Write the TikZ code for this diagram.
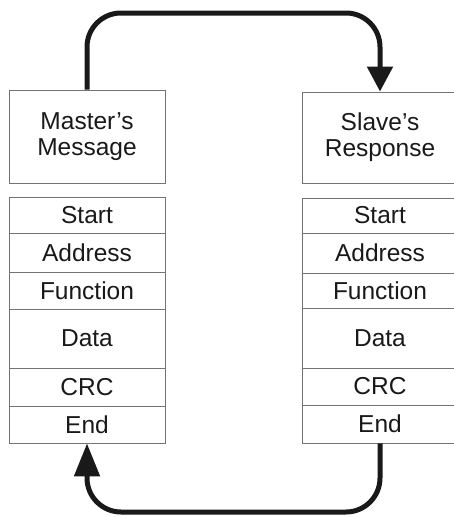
\documentclass[tikz,border=0pt]{standalone}
\usepackage{fontspec}
\setmainfont{Liberation Sans}
\usetikzlibrary{arrows.meta}
\begin{document}
\begin{tikzpicture}[x=1pt,y=-1pt,
  cell/.style={draw=black!55,line width=0.8pt,minimum width=156pt,inner sep=0pt,
    font=\fontsize{24.5}{26}\selectfont,text=black!90,align=center},
  rcell/.style={cell,minimum width=164pt,text width=156pt,xshift=4pt},
  flow/.style={line width=5pt,rounded corners=34pt,draw=black!90}]
\useasboundingbox (0,0) rectangle (454,517);
\clip (0,0) rectangle (454,517);
% left column
\node[cell,minimum height=93pt] (mh) at (87,136.5) {Master’s\\Message};
\node[cell,minimum height=36pt] (ms) at (87,215) {Start};
\node[cell,minimum height=39pt] (ma) at (87,252.5) {Address};
\node[cell,minimum height=37pt] (mf) at (87,290.5) {Function};
\node[cell,minimum height=59pt] (md) at (87,338.5) {Data};
\node[cell,minimum height=38pt] (mc) at (87,387) {CRC};
\node[cell,minimum height=37pt] (me) at (87,424.5) {End};
% right column
\node[rcell,minimum height=91pt] (sh) at (380,137.5) {\hspace*{-8pt}Slave’s\\\hspace*{-8pt}Response};
\node[rcell,minimum height=35pt] (ss) at (380,215.5) {\hspace*{-8pt}Start};
\node[rcell,minimum height=40pt] (sa) at (380,253) {\hspace*{-8pt}Address};
\node[rcell,minimum height=35pt] (sf) at (380,290.5) {\hspace*{-8pt}Function};
\node[rcell,minimum height=60pt] (sd) at (380,338) {\hspace*{-8pt}Data};
\node[rcell,minimum height=37pt] (sc) at (380,386.5) {\hspace*{-8pt}CRC};
\node[rcell,minimum height=38pt] (se) at (380,424) {\hspace*{-8pt}End};
% connectors
\draw[flow,-{Triangle[length=25pt,width=25pt]}] (mh.north) -- (87,13) -- (380,13) -- (sh.north -| 380,0);
\draw[flow,-{Triangle[length=33pt,width=25pt]}] (se.south -| 380,0) -- (380,512) -- (87,512) -- (me.south);
\end{tikzpicture}
\end{document}
